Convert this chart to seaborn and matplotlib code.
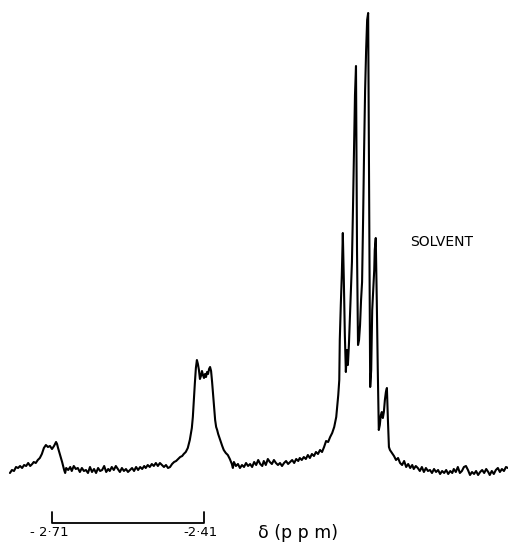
import numpy as np
import pandas as pd
import seaborn as sns
import matplotlib
matplotlib.use("Agg")
import matplotlib.pyplot as plt

# chemical shift (ppm) and recorder intensity (arb. units)
shift = [
    -2.793, -2.789, -2.785, -2.781, -2.777, -2.773, -2.769, -2.765, -2.761, -2.757,
    -2.753, -2.749, -2.746, -2.742, -2.738, -2.734, -2.730, -2.726, -2.722, -2.718,
    -2.714, -2.710, -2.706, -2.702, -2.700, -2.698, -2.694, -2.690, -2.686, -2.684,
    -2.682, -2.678, -2.674, -2.671, -2.667, -2.663, -2.659, -2.655, -2.651, -2.647,
    -2.643, -2.639, -2.635, -2.631, -2.627, -2.623, -2.619, -2.615, -2.611, -2.607,
    -2.603, -2.599, -2.596, -2.592, -2.588, -2.584, -2.580, -2.576, -2.572, -2.568,
    -2.564, -2.560, -2.556, -2.552, -2.548, -2.544, -2.540, -2.536, -2.532, -2.528,
    -2.525, -2.521, -2.517, -2.513, -2.509, -2.505, -2.501, -2.497, -2.493, -2.489,
    -2.485, -2.481, -2.477, -2.473, -2.469, -2.465, -2.461, -2.457, -2.453, -2.450,
    -2.446, -2.442, -2.438, -2.434, -2.432, -2.430, -2.428, -2.426, -2.424, -2.422,
    -2.420, -2.418, -2.416, -2.414, -2.412, -2.410, -2.408, -2.406, -2.404, -2.402,
    -2.400, -2.398, -2.396, -2.394, -2.392, -2.390, -2.388, -2.386, -2.384, -2.382,
    -2.378, -2.374, -2.371, -2.367, -2.363, -2.359, -2.355, -2.353, -2.351, -2.347,
    -2.343, -2.339, -2.335, -2.331, -2.327, -2.323, -2.319, -2.315, -2.311, -2.307,
    -2.303, -2.299, -2.295, -2.292, -2.288, -2.284, -2.280, -2.276, -2.272, -2.268,
    -2.264, -2.260, -2.256, -2.252, -2.248, -2.244, -2.240, -2.236, -2.232, -2.228,
    -2.224, -2.221, -2.217, -2.213, -2.209, -2.205, -2.201, -2.197, -2.193, -2.189,
    -2.185, -2.181, -2.177, -2.173, -2.169, -2.165, -2.161, -2.157, -2.153, -2.149,
    -2.145, -2.143, -2.142, -2.140, -2.138, -2.136, -2.134, -2.132, -2.130, -2.128,
    -2.126, -2.124, -2.122, -2.120, -2.118, -2.116, -2.114, -2.112, -2.110, -2.108,
    -2.106, -2.104, -2.102, -2.100, -2.098, -2.096, -2.094, -2.092, -2.090, -2.088,
    -2.086, -2.084, -2.082, -2.080, -2.078, -2.076, -2.074, -2.073, -2.071, -2.069,
    -2.067, -2.065, -2.063, -2.061, -2.059, -2.057, -2.055, -2.053, -2.051, -2.049,
    -2.047, -2.045, -2.043, -2.039, -2.035, -2.031, -2.027, -2.023, -2.019, -2.015,
    -2.011, -2.007, -2.003, -1.999, -1.996, -1.992, -1.988, -1.984, -1.980, -1.976,
    -1.972, -1.968, -1.964, -1.960, -1.956, -1.952, -1.948, -1.944, -1.940, -1.936,
    -1.932, -1.928, -1.924, -1.920, -1.917, -1.913, -1.909, -1.905, -1.901, -1.897,
    -1.893, -1.889, -1.885, -1.881, -1.877, -1.873, -1.869, -1.865, -1.861, -1.857,
    -1.853, -1.849, -1.846, -1.842, -1.838, -1.834, -1.830, -1.826, -1.822, -1.818,
    -1.814, -1.810,
]
intensity = [
    -3, 0, -1, 3, 2, 4, 2, 5, 4, 7,
    4, 6, 8, 7, 10, 12, 16, 22, 25, 23,
    24, 21, 24, 28, 26, 22, 15, 8, 0, -3,
    2, 0, 3, -1, 4, 1, 2, -2, 2, -1,
    0, -3, 3, -2, 1, -3, 2, -1, 0, 4,
    -2, 1, -1, 3, 0, 4, 1, -2, 2, -1,
    1, -2, 0, 2, -1, 3, 0, 3, 1, 4,
    2, 5, 3, 6, 4, 7, 4, 7, 5, 3,
    5, 2, 3, 6, 8, 9, 11, 13, 14, 16,
    18, 22, 30, 42, 53, 70, 87, 102, 110, 106,
    100, 91, 94, 99, 95, 92, 96, 93, 98, 96,
    101, 103, 99, 88, 75, 63, 50, 43, 40, 36,
    30, 24, 20, 17, 15, 11, 6, 2, 8, 4,
    6, 2, 5, 3, 7, 4, 6, 3, 8, 5,
    10, 6, 4, 9, 5, 11, 8, 6, 10, 7,
    5, 7, 4, 7, 9, 6, 8, 10, 7, 11,
    9, 12, 10, 13, 11, 15, 12, 16, 14, 18,
    16, 20, 18, 23, 29, 28, 33, 37, 43, 53,
    75, 90, 130, 165, 195, 237, 190, 135, 98, 120,
    105, 125, 152, 180, 208, 260, 320, 375, 404, 220,
    125, 130, 145, 170, 188, 250, 320, 380, 420, 450,
    457, 270, 83, 100, 160, 180, 200, 220, 232, 170,
    100, 40, 45, 55, 58, 52, 58, 70, 78, 82,
    50, 23, 20, 17, 14, 10, 12, 7, 5, 9,
    3, 6, 2, 5, 1, 4, 2, -1, 3, -2,
    2, -1, 0, -3, 1, -2, 0, -4, -1, -3,
    0, -4, -1, -3, 1, -2, 3, -3, -1, 3,
    4, 0, -5, -2, -4, -1, -5, -2, 0, -3,
    1, -2, -5, -1, -4, 0, 2, -2, 1, -1,
    3, 2,
]

scale_ticks = [-2.71, -2.41]
scale_labels = ["- 2·71", "-2·41"]

df = pd.DataFrame({"shift": shift, "intensity": intensity})

sns.set_style("white")
fig = plt.figure(figsize=(5.08, 5.42), dpi=100)
ax = fig.add_axes([0, 0, 1, 1])

sns.lineplot(data=df, x="shift", y="intensity", sort=False, color="black",
             linewidth=1.5, ax=ax)

# scale bar under the spectrum
ax.plot([scale_ticks[0], scale_ticks[0], scale_ticks[1], scale_ticks[1]],
        [-42, -53, -53, -42], color="black", linewidth=1.3)
for t, lab in zip(scale_ticks, scale_labels):
    ax.text(t - 0.006, -63, lab, ha="center", va="center", fontsize=9.5,
            color="black")
ax.text(-2.224, -63, "δ (p p m)", ha="center", va="center", fontsize=12.5,
        color="black")
ax.text(-2.004, 228, "SOLVENT", ha="left", va="center", fontsize=10,
        color="black")

ax.set_xlim(-2.8126, -1.8100)
ax.set_ylim(-72, 470)
ax.set_axis_off()

fig.savefig("out.png", dpi=100, facecolor="white")
